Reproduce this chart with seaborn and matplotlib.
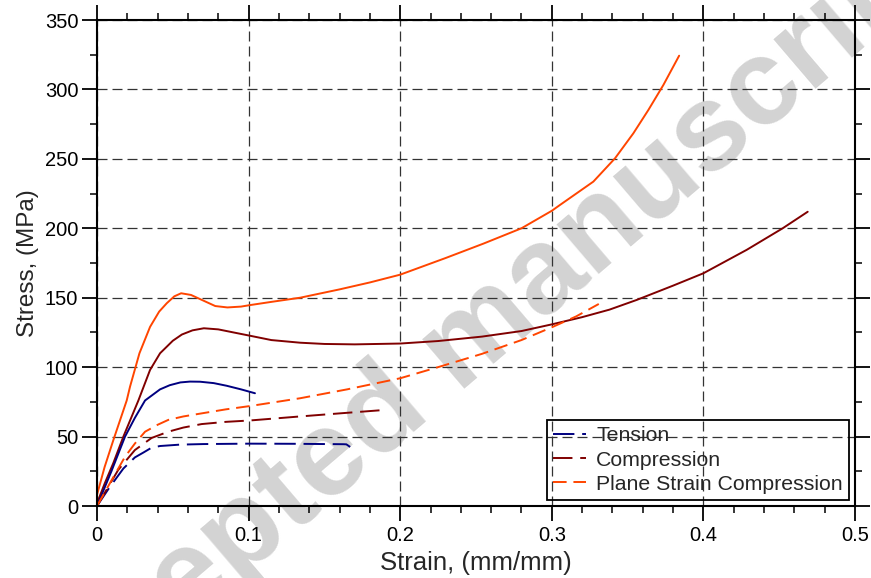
import numpy as np
import pandas as pd
import matplotlib
matplotlib.use("Agg")
import matplotlib.pyplot as plt
import seaborn as sns

# ---- data (strain, stress) ----
pscomp_solid_x = [0, 0.005, 0.0108, 0.0196, 0.0218, 0.028, 0.035, 0.041, 0.046, 0.051, 0.0555,
                  0.062, 0.070, 0.078, 0.086, 0.095, 0.101, 0.115, 0.134, 0.16, 0.18, 0.2, 0.23,
                  0.255, 0.28, 0.3, 0.3054, 0.3274, 0.3417, 0.3538, 0.3637, 0.3736, 0.384]
pscomp_solid_y = [8, 28, 47.5, 76, 86, 110, 129, 140, 146, 151, 153.2,
                  152, 148, 144, 143, 143.6, 144.7, 147, 150, 156, 161, 166.6, 178.6,
                  189, 200, 212.6, 216.8, 233.6, 250.4, 268.4, 285.2, 303.2, 324.3]

comp_solid_x = [0, 0.005, 0.0108, 0.0174, 0.0273, 0.035, 0.0416, 0.046, 0.05, 0.056, 0.063, 0.0705,
                0.08, 0.09, 0.101, 0.115, 0.134, 0.15, 0.17, 0.2, 0.225, 0.254, 0.28, 0.3, 0.32,
                0.338, 0.356, 0.38, 0.4, 0.4286, 0.4523, 0.4688]
comp_solid_y = [2, 16, 31, 50, 76, 98, 110, 114.7, 119, 123.5, 126.5, 128,
                127.2, 125, 122.6, 119.5, 117.6, 116.7, 116.4, 117, 118.8, 122, 126, 130.8, 136,
                141.4, 148.4, 158.7, 167.6, 184.5, 200, 211.9]

tens_solid_x = [0, 0.0095, 0.0185, 0.025, 0.0317, 0.0416, 0.048, 0.055, 0.0613, 0.068, 0.077,
                0.0855, 0.095, 0.1042]
tens_solid_y = [0, 25, 50, 63.5, 76, 84, 87, 89, 89.6, 89.5, 88.5, 86.6, 84, 81.2]

pscomp_dash_x = [0, 0.0097, 0.0185, 0.025, 0.0317, 0.04, 0.047, 0.057, 0.069, 0.085, 0.101, 0.134,
                 0.165, 0.2, 0.225, 0.254, 0.28, 0.3, 0.316, 0.331]
pscomp_dash_y = [0, 18.7, 35.5, 45, 53.5, 58.5, 62, 64.5, 66.7, 69.6, 72, 77.6,
                 84, 92, 100, 109.6, 119.5, 128.7, 136.5, 145.5]

comp_dash_x = [0, 0.007, 0.014, 0.025, 0.036, 0.047, 0.057, 0.069, 0.085, 0.101, 0.134, 0.16, 0.19]
comp_dash_y = [0, 13, 26, 40.3, 49, 53.5, 56.5, 59, 60.6, 61.6, 64.5, 66.7, 69.2]

tens_dash_x = [0, 0.008, 0.0174, 0.025, 0.0306, 0.036, 0.0416, 0.0547, 0.07, 0.1, 0.13, 0.1625, 0.1645, 0.167]
tens_dash_y = [0, 13, 27, 35, 38.5, 42, 43.2, 44.2, 44.6, 44.9, 44.8, 44.5, 44.4, 42.5]

labels = ["Tension", "Compression", "Plane Strain Compression"]
c_tens, c_comp, c_ps = "#000080", "#800000", "#FF4500"

xticks = [0, 0.1, 0.2, 0.3, 0.4, 0.5]
xticklabels = ["0", "0.1", "0.2", "0.3", "0.4", "0.5"]
yticks = [0, 50, 100, 150, 200, 250, 300, 350]

# ---- style ----
sns.set_style("ticks")
plt.rcParams["font.family"] = ["Liberation Sans", "DejaVu Sans"]

fig = plt.figure(figsize=(8.71, 5.78), dpi=100)
ax = fig.add_axes([97 / 871, 1 - 506 / 578, (855 - 97) / 871, (506 - 20) / 578])
ax.set_axisbelow(True)

lw = 1.4
sns.lineplot(x=pscomp_solid_x, y=pscomp_solid_y, ax=ax, color=c_ps, lw=lw, sort=False)
sns.lineplot(x=comp_solid_x, y=comp_solid_y, ax=ax, color=c_comp, lw=lw, sort=False)
sns.lineplot(x=tens_solid_x, y=tens_solid_y, ax=ax, color=c_tens, lw=lw, sort=False)
sns.lineplot(x=tens_dash_x, y=tens_dash_y, ax=ax, color=c_tens, lw=lw, sort=False,
             linestyle=(0, (11, 4)), label=labels[0])
sns.lineplot(x=comp_dash_x, y=comp_dash_y, ax=ax, color=c_comp, lw=lw, sort=False,
             linestyle=(0, (10, 4)), label=labels[1])
sns.lineplot(x=pscomp_dash_x, y=pscomp_dash_y, ax=ax, color=c_ps, lw=lw, sort=False,
             linestyle=(0, (7, 3.5)), label=labels[2])

ax.set_xlim(0, 0.5)
ax.set_ylim(0, 350)
ax.set_xticks(xticks)
ax.set_xticklabels(xticklabels)
ax.set_yticks(yticks)
ax.set_xticks(np.arange(0, 0.5001, 0.02), minor=True)
ax.set_yticks(np.arange(0, 350.1, 25), minor=True)

for s in ax.spines.values():
    s.set_visible(True)
    s.set_linewidth(1.5)
    s.set_color("black")

ax.tick_params(which="both", direction="out", top=True, right=True,
               labeltop=False, labelright=False, colors="black")
ax.tick_params(which="major", length=11, width=1.3, labelsize=14.5)
ax.tick_params(axis="y", which="major", pad=2.5)
ax.tick_params(axis="x", which="major", pad=3.5)
ax.tick_params(which="minor", length=5, width=1.1)

ax.grid(True, which="major", color="#333333", linestyle=(0, (8, 4)), lw=0.9)

ax.set_xlabel("Strain, (mm/mm)", fontsize=18.5, labelpad=4)
ax.set_ylabel("Stress, (MPa)", fontsize=17.5, labelpad=4)

leg = ax.legend(loc="lower right", frameon=True, fancybox=False, edgecolor="black",
                facecolor="none", framealpha=1, borderaxespad=0.28, fontsize=15.3,
                handlelength=1.55, handletextpad=0.47, labelspacing=0.24, borderpad=0.3)
leg.get_frame().set_linewidth(1.3)

# watermark
ax.text(466 / 871, 1 - 345 / 578, "Accepted manuscript", transform=fig.transFigure,
        rotation=40.5, ha="center", va="center", rotation_mode="anchor",
        fontsize=88, fontweight="bold", color="#d3d3d3", zorder=0.2, clip_on=False)

fig.savefig("out.png", dpi=100)
